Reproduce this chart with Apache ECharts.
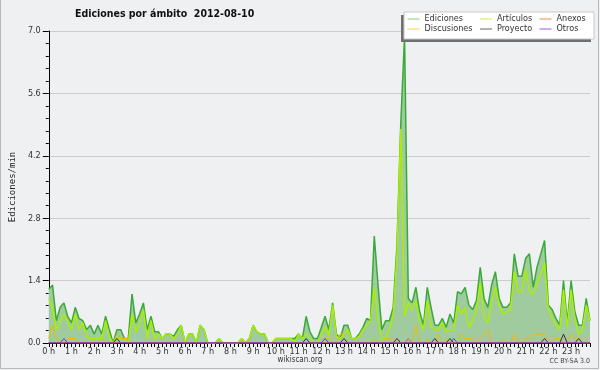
<!DOCTYPE html>
<html>
<head>
<meta charset="utf-8">
<script src="https://cdn.jsdelivr.net/npm/echarts@6/dist/echarts.min.js"></script>
<style>
html, body { margin: 0; padding: 0; background: #eff0f2; }
#chart { width: 600px; height: 370px; }
</style>
</head>
<body>
<div id="chart"></div>
<script>
// etiquetas de hora (una cada 6 puntos, un punto cada 10 min)
const hourLabels = ['0 h', '1 h', '2 h', '3 h', '4 h', '5 h', '6 h', '7 h', '8 h', '9 h', '10 h', '11 h',
    '12 h', '13 h', '14 h', '15 h', '16 h', '17 h', '18 h', '19 h', '20 h', '21 h', '22 h', '23 h'];

const ediciones = [
    1.2, 1.3, 0.5, 0.8, 0.9, 0.6,
    0.45, 0.8, 0.55, 0.5, 0.3, 0.4,
    0.2, 0.4, 0.2, 0.6, 0.3, 0,
    0.3, 0.3, 0.1, 0.1, 1.1, 0.45,
    0.65, 0.9, 0.3, 0.6, 0.25, 0.25,
    0.1, 0.2, 0.2, 0.15, 0.3, 0.4,
    0, 0.2, 0.2, 0, 0.4, 0.3,
    0, 0, 0, 0.1, 0, 0,
    0, 0, 0, 0.1, 0, 0.1,
    0.4, 0.25, 0.2, 0.2, 0, 0,
    0.1, 0.1, 0.1, 0.1, 0.1, 0.1,
    0.2, 0.1, 0.6, 0.25, 0.1, 0.1,
    0.35, 0.6, 0.3, 0.9, 0.2, 0.1,
    0.4, 0.4, 0.1, 0.1, 0.2, 0.35,
    0.55, 0.5, 2.4, 1.3, 0.3, 0.5,
    0.5, 0.8, 2.2, 4.9, 6.9, 1.0,
    0.9, 1.25, 0.7, 0.4, 1.25, 0.8,
    0.4, 0.4, 0.55, 0.35, 0.65, 0.45,
    1.15, 1.1, 1.25, 0.85, 0.75, 0.95,
    1.7, 1.0, 0.8, 1.3, 1.6, 1.0,
    0.8, 0.8, 0.9, 2.0, 1.5, 1.5,
    1.9, 2.0, 1.25, 1.7, 2.0, 2.3,
    0.85, 0.75, 0.55, 0.4, 1.4, 0.45,
    1.4, 0.7, 0.4, 0.4, 1.0, 0.5
];

const articulos = [
    1.0, 0.8, 0.3, 0.5, 0.65, 0.5,
    0.3, 0.65, 0.3, 0.45, 0.15, 0.1,
    0.1, 0.1, 0.1, 0.5, 0.15, 0,
    0.1, 0.1, 0.1, 0, 0.65, 0.25,
    0.4, 0.75, 0.1, 0.5, 0.1, 0.2,
    0.1, 0.2, 0.2, 0.1, 0.2, 0.4,
    0, 0.2, 0.2, 0, 0.4, 0.3,
    0, 0, 0, 0.1, 0, 0,
    0, 0, 0, 0.1, 0, 0.1,
    0.4, 0.25, 0.2, 0.2, 0, 0,
    0.1, 0.1, 0.1, 0.1, 0.1, 0,
    0.2, 0.1, 0.2, 0.1, 0, 0,
    0.2, 0.35, 0.15, 0.85, 0.15, 0.1,
    0.2, 0.3, 0.1, 0.1, 0.15, 0.3,
    0.4, 0.5, 1.25, 0.5, 0.1, 0.1,
    0.3, 0.6, 2.0, 4.8, 0.6, 0.9,
    0.75, 0.95, 0.5, 0.3, 0.95, 0.35,
    0.3, 0.3, 0.45, 0.25, 0.3, 0.3,
    0.85, 0.65, 0.8, 0.35, 0.5, 0.75,
    1.35, 0.6, 0.45, 0.9, 1.25, 0.85,
    0.65, 0.7, 0.75, 1.6, 1.15, 1.15,
    1.65, 1.15, 1.1, 1.35, 1.55, 1.8,
    0.75, 0.55, 0.4, 0.3, 1.2, 0.35,
    1.2, 0.55, 0.2, 0.3, 0.85, 0.5
];

const discusiones = [
    0.1, 0.4, 0.1, 0, 0, 0.1,
    0.1, 0.1, 0, 0, 0, 0,
    0, 0, 0.1, 0, 0, 0,
    0.2, 0.1, 0.1, 0.1, 0, 0,
    0, 0, 0, 0, 0, 0,
    0, 0, 0, 0, 0, 0,
    0, 0, 0, 0, 0, 0,
    0, 0, 0, 0, 0, 0,
    0, 0, 0, 0, 0, 0,
    0, 0, 0, 0, 0, 0,
    0, 0, 0, 0, 0, 0,
    0, 0, 0, 0, 0, 0,
    0, 0.1, 0.1, 0, 0, 0.2,
    0.2, 0, 0, 0, 0, 0,
    0, 0, 0.1, 0, 0, 0.1,
    0.1, 0, 0, 0, 0, 0,
    0, 0.4, 0, 0, 0.1, 0,
    0, 0.2, 0, 0.1, 0, 0,
    0, 0.2, 0.1, 0.1, 0.1, 0,
    0.1, 0.2, 0.3, 0, 0, 0,
    0.1, 0, 0, 0.2, 0, 0,
    0.1, 0.1, 0.2, 0.2, 0.2, 0.2,
    0.1, 0, 0.1, 0.1, 0, 0,
    0.2, 0.1, 0.1, 0, 0, 0
];

const proyecto = [
    0, 0, 0, 0, 0, 0,
    0, 0, 0, 0, 0, 0,
    0, 0, 0, 0, 0, 0,
    0.1, 0, 0, 0, 0, 0,
    0, 0, 0, 0, 0, 0,
    0, 0, 0, 0, 0, 0,
    0, 0, 0, 0, 0, 0,
    0, 0, 0, 0, 0, 0,
    0, 0, 0, 0, 0, 0,
    0, 0, 0, 0, 0, 0,
    0, 0, 0, 0, 0, 0,
    0, 0, 0.1, 0, 0, 0,
    0, 0, 0, 0, 0, 0,
    0.1, 0, 0, 0, 0, 0,
    0, 0, 0, 0, 0, 0,
    0, 0, 0.1, 0, 0, 0,
    0, 0, 0, 0, 0, 0,
    0.1, 0, 0, 0, 0.1, 0,
    0, 0, 0, 0, 0, 0,
    0, 0, 0, 0, 0, 0,
    0, 0, 0, 0, 0, 0,
    0, 0, 0, 0, 0, 0.1,
    0, 0, 0, 0, 0.2, 0,
    0, 0, 0.1, 0, 0, 0
];

const anexos = [
    0, 0, 0, 0, 0, 0,  0, 0, 0, 0, 0, 0,  0, 0, 0, 0, 0, 0,  0, 0, 0, 0, 0, 0,
    0, 0, 0, 0, 0, 0,  0, 0, 0, 0, 0, 0,  0, 0, 0, 0, 0, 0,  0, 0, 0, 0, 0, 0,
    0, 0, 0, 0, 0, 0,  0, 0, 0, 0, 0, 0,  0, 0, 0, 0, 0, 0,  0, 0, 0, 0, 0, 0,
    0, 0, 0, 0, 0, 0,  0, 0, 0, 0, 0, 0,  0, 0, 0, 0, 0, 0,  0, 0, 0, 0, 0, 0.1,
    0, 0, 0, 0, 0, 0,  0, 0, 0, 0, 0, 0,  0, 0, 0, 0, 0, 0,  0, 0, 0, 0, 0, 0,
    0, 0, 0, 0, 0, 0,  0, 0, 0, 0, 0, 0,  0, 0, 0, 0, 0, 0,  0, 0, 0, 0, 0, 0
];

const otros = [
    0, 0, 0, 0, 0.1, 0,  0, 0, 0, 0, 0, 0,  0, 0, 0, 0, 0, 0,  0, 0, 0, 0, 0, 0,
    0, 0, 0, 0, 0, 0,  0, 0, 0, 0, 0, 0,  0, 0, 0, 0, 0, 0,  0, 0, 0, 0, 0, 0,
    0, 0, 0, 0, 0, 0,  0, 0, 0, 0, 0, 0,  0, 0, 0, 0, 0, 0,  0, 0, 0, 0, 0, 0,
    0, 0.1, 0, 0, 0, 0,  0, 0, 0, 0, 0, 0,  0, 0, 0, 0, 0, 0,  0, 0, 0, 0, 0, 0,
    0, 0, 0, 0, 0, 0,  0, 0, 0, 0, 0, 0.1,  0, 0, 0, 0, 0, 0,  0, 0, 0, 0, 0, 0,
    0, 0, 0, 0, 0, 0,  0, 0, 0, 0, 0, 0,  0, 0, 0, 0, 0, 0,  0, 0, 0, 0, 0, 0
];

const FONT = '"DejaVu Sans Condensed", "DejaVu Sans", sans-serif';

// una categoría por cada 10 minutos
const categories = [];
hourLabels.forEach(function (h, hi) {
    for (let m = 0; m < 6; m++) {
        categories.push(hi + ':' + m + '0');
    }
});

function lineSeries(name, data, color, width, z) {
    return {
        name: name,
        type: 'line',
        data: data,
        symbol: 'none',
        z: z,
        color: color,
        lineStyle: { color: color, width: width },
        emphasis: { disabled: true }
    };
}

function legendItem(name, color, textWidth) {
    let item = {
        name: name,
        lineStyle: { color: color, width: 1 },
        // sin el círculo, solo la línea
        itemStyle: { color: 'rgba(0,0,0,0)', borderWidth: 0, opacity: 0 }
    };
    if (textWidth) {
        item.textStyle = { width: textWidth };
    }
    return item;
}

let chart = echarts.init(document.getElementById('chart'), null, { renderer: 'canvas' });

chart.setOption({
    backgroundColor: '#eff0f2',
    animation: false,
    title: {
        text: 'Ediciones por ámbito  2012-08-10',
        left: 75,
        top: 9,
        padding: 0,
        textStyle: { fontFamily: FONT, fontSize: 10.5, fontWeight: 'bold', color: '#111' }
    },
    legend: {
        left: 407,
        top: 14,
        width: 186,
        padding: 0,
        itemGap: 0,
        itemWidth: 12,
        itemHeight: 10,
        z: 20,
        selectedMode: false,
        textStyle: { fontFamily: FONT, fontSize: 9, color: '#333', lineHeight: 10 },
        data: [
            legendItem('Ediciones', '#88cc88', 55),
            legendItem('Artículos', '#ccee55', 42),
            legendItem('Anexos', '#ee8855'),
            legendItem('Discusiones', '#ffd050', 55),
            legendItem('Proyecto', '#666666', 42),
            legendItem('Otros', '#9955ee')
        ]
    },
    graphic: [
        { type: 'rect', z: 15, shape: { x: 401, y: 15, width: 190, height: 27 }, style: { fill: '#707070' } },
        { type: 'rect', z: 16, shape: { x: 404, y: 12, width: 190, height: 27 }, style: { fill: '#ffffff', stroke: '#c8c8c8', lineWidth: 1 } },
        { type: 'text', left: 'center', top: 356, style: { text: 'wikiscan.org', font: '8px ' + FONT, fill: '#333' } },
        { type: 'text', right: 10, top: 358, style: { text: 'CC BY-SA 3.0', font: '7px ' + FONT, fill: '#444' } },
        { type: 'polyline', z: 20, shape: { points: [[0.5, 0], [0.5, 368.5], [598.5, 368.5], [598.5, 0]] }, style: { stroke: '#b8b8b8', fill: null, lineWidth: 1 } }
    ],
    grid: { left: 46.5, right: 10, top: 31, bottom: 27, containLabel: false },
    xAxis: {
        type: 'category',
        data: categories,
        boundaryGap: false,
        axisLine: { lineStyle: { color: '#000', width: 1 } },
        axisTick: { interval: 0, length: 4, lineStyle: { color: '#000' } },
        axisLabel: {
            interval: 0,
            margin: 4,
            fontFamily: FONT,
            fontSize: 9,
            color: '#333',
            formatter: function (val, idx) {
                return idx % 6 === 0 ? hourLabels[idx / 6] : '';
            }
        },
        splitLine: { show: false }
    },
    yAxis: {
        type: 'value',
        min: 0,
        max: 7,
        interval: 1.4,
        name: 'Ediciones/min',
        nameLocation: 'middle',
        nameGap: 31,
        nameTextStyle: { fontFamily: '"DejaVu Sans Mono", monospace', fontSize: 9, color: '#222' },
        axisLine: { show: true, lineStyle: { color: '#000', width: 1 } },
        axisTick: { show: true, length: 6, lineStyle: { color: '#000' } },
        minorTick: { show: true, splitNumber: 5, length: 3, lineStyle: { color: '#000' } },
        axisLabel: {
            margin: 8,
            fontFamily: FONT,
            fontSize: 9,
            color: '#333',
            formatter: function (v) { return v.toFixed(1); }
        },
        splitLine: { show: true, lineStyle: { color: '#cccccc', width: 1 } }
    },
    series: [
        Object.assign(lineSeries('Ediciones', ediciones, '#3aa93a', 1.5, 2), {
            areaStyle: { color: '#9fcb9f', opacity: 1 }
        }),
        lineSeries('Artículos', articulos, '#aaee00', 1.5, 3),
        lineSeries('Discusiones', discusiones, '#eebb00', 1, 4),
        lineSeries('Proyecto', proyecto, '#333333', 1, 5),
        lineSeries('Anexos', anexos, '#ff5522', 1, 5),
        lineSeries('Otros', otros, '#6633ff', 1, 5)
    ]
});
</script>
</body>
</html>
